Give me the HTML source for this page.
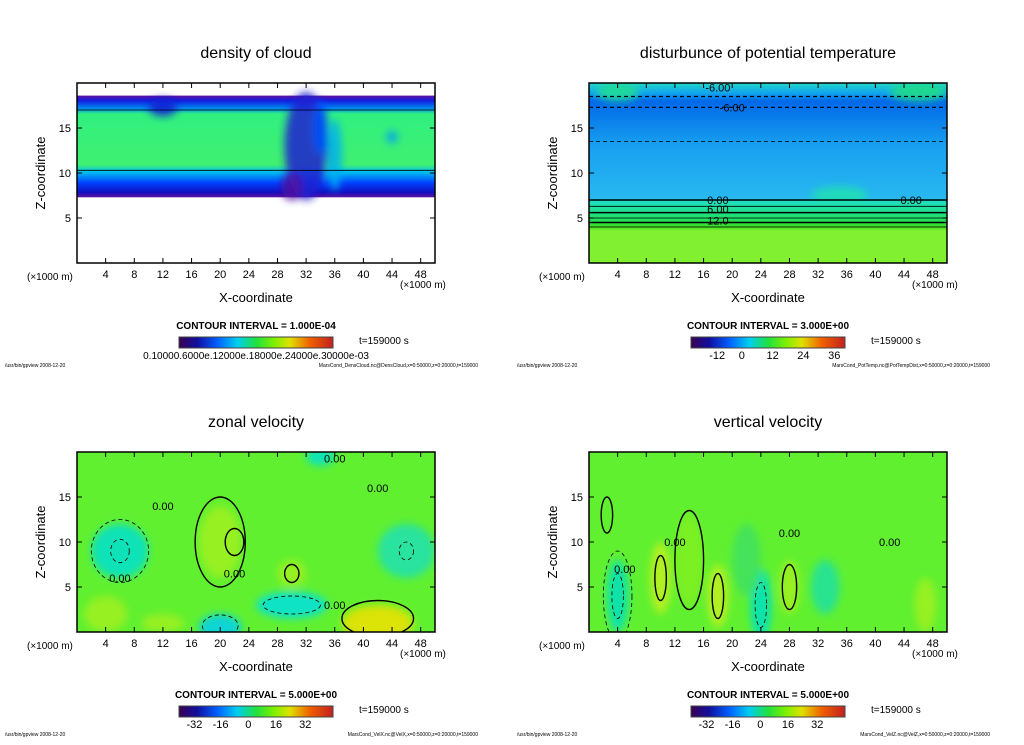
<!DOCTYPE html>
<html><head><meta charset="utf-8">
<style>
body{margin:0;background:#fff;width:1024px;height:740px;overflow:hidden;font-family:"Liberation Sans",sans-serif;}
svg text{font-family:"Liberation Sans",sans-serif;fill:#000;}
</style></head>
<body>
<svg id="fig" width="1024" height="740" xmlns="http://www.w3.org/2000/svg">
<defs>
<filter id="blur4"><feGaussianBlur stdDeviation="4"/></filter>
<linearGradient id="cbar" x1="0" x2="1" y1="0" y2="0">
<stop offset="0" stop-color="#3a0050"/><stop offset="0.12" stop-color="#1010a0"/><stop offset="0.25" stop-color="#0060ff"/>
<stop offset="0.38" stop-color="#00d0f0"/><stop offset="0.5" stop-color="#20e040"/><stop offset="0.62" stop-color="#80f000"/>
<stop offset="0.72" stop-color="#e0e000"/><stop offset="0.85" stop-color="#f06000"/><stop offset="1" stop-color="#c02020"/>
</linearGradient>
<linearGradient id="g1" x1="0" x2="0" y1="0" y2="1">
<stop offset="0" stop-color="#6010a0"/><stop offset="0.05" stop-color="#1020e0"/><stop offset="0.13" stop-color="#0090f0"/>
<stop offset="0.18" stop-color="#30f080"/><stop offset="0.68" stop-color="#40f070"/><stop offset="0.75" stop-color="#00c0f0"/>
<stop offset="0.86" stop-color="#0040ff"/><stop offset="0.95" stop-color="#1010c0"/><stop offset="1" stop-color="#6010a0"/>
</linearGradient>
<linearGradient id="g2" x1="0" x2="0" y1="0" y2="1">
<stop offset="0" stop-color="#20d8c8"/><stop offset="0.06" stop-color="#10a0f0"/><stop offset="0.1" stop-color="#0068e8"/>
<stop offset="0.35" stop-color="#18a0f0"/><stop offset="0.64" stop-color="#28b8f0"/><stop offset="0.66" stop-color="#20e0c0"/>
<stop offset="0.76" stop-color="#20e060"/><stop offset="0.8" stop-color="#40e020"/><stop offset="0.82" stop-color="#80f030"/>
<stop offset="1" stop-color="#80f030"/>
</linearGradient>
</defs>
</svg>
<script>
const xTicks=[4,8,12,16,20,24,28,32,36,40,44,48];
const zTicks=[5,10,15];
const titles=["density of cloud","disturbunce of potential temperature","zonal velocity","vertical velocity"];
const intervals=["CONTOUR INTERVAL = 1.000E-04","CONTOUR INTERVAL = 3.000E+00","CONTOUR INTERVAL = 5.000E+00","CONTOUR INTERVAL = 5.000E+00"];
const cbarLabels=[["0.10000.6000e.12000e.18000e.24000e.30000e-03"],["-12","0","12","24","36"],["-32","-16","0","16","32"],["-32","-16","0","16","32"]];
const cbarPos=[[0.5],[0.17,0.33,0.53,0.73,0.93],[0.1,0.27,0.45,0.63,0.82],[0.1,0.27,0.45,0.63,0.82]];
const footers=["MarsCond_DensCloud.nc@DensCloud,x=0:50000,z=0:20000,t=159000","MarsCond_PotTemp.nc@PotTempDist,x=0:50000,z=0:20000,t=159000","MarsCond_VelX.nc@VelX,x=0:50000,z=0:20000,t=159000","MarsCond_VelZ.nc@VelZ,x=0:50000,z=0:20000,t=159000"];
// blobs: [x, z, rx, rz, color]
const blobs1=[[32,13,3,6,"#2020d0"],[30,8.5,1.5,1.5,"#5010a0"],[34,15,1,3,"#0050ff"],[12,17.3,2,1,"#1020d0"],[44,14,0.8,0.7,"#00a0f0"],[36,12,1,4,"#00b0f0"]];
const blobs2=[[35,7.5,4,1,"#20e0b0"],[46,19,4,1,"#20e080"],[4,19,3,1,"#20e090"]];
const blobs3=[[6,9,4,3,"#00e0d0"],[46,9,4,3,"#20e0b0"],[20,10,3,4,"#a0f020"],[30,3,5,1.5,"#00e0e0"],[20,0.5,3,1.5,"#00d0f0"],[42,1,5,2,"#f0e000"],[30,6.5,2,1.5,"#a0f020"],[4,2,3,2,"#a0f020"],[12,1,3,1,"#a0f020"],[34,19.5,2,1,"#00e0d0"]];
const blobs4=[[4,4,1.5,4,"#00e0c0"],[10,6,1.5,4,"#c0f020"],[18,4,1.5,3.5,"#c0f020"],[24,3,1.5,4,"#00e0c0"],[14,8,2,5,"#80f020"],[28,5,1.5,3,"#a0f020"],[33,5,2,3,"#20e0a0"],[22,8,2,4,"#40e060"],[47,3,1.5,3,"#a0f020"]];
// horizontal contour levels: [z, dashed, width]
const lines1=[[10.3,0,0.8],[17,0,0.8]];
const lines2=[[7,0,1.5],[6.3,0,0.8],[5.6,0,1.5],[5.0,0,0.8],[4.5,0,1.5],[4.0,0,0.8],[17.3,1,1.2],[13.5,1,0.8],[18.5,1,1.2]];
const lines3=[];
const lines4=[];
const labels2=[[18,7,"0.00"],[45,7,"0.00"],[18,6,"6.00"],[18,4.7,"12.0"],[20,17.3,"-6.00"],[18,19.5,"-6.00"]];
// contour ellipses: [x, z, rx, rz, dashed]
const rings3=[[6,9,1.3,1.3,1],[46,9,1,1,1],[22,10,1.3,1.5,0],[30,6.5,1,1,0],[30,3,4,1,1],[20,10,3.5,5,0],[42,1.5,5,2,0],[20,0.7,2.5,1.2,1],[6,9,4,3.5,1]];
const rings4=[[4,4,0.8,2.5,1],[10,6,0.8,2.5,0],[18,4,0.8,2.5,0],[24,3,0.8,2.5,1],[14,8,2,5.5,0],[2.5,13,0.8,2,0],[4,4,2,5,1],[28,5,1,2.5,0]];
const labels3=[[6,6,"0.00"],[22,6.5,"0.00"],[36,3,"0.00"],[12,14,"0.00"],[42,16,"0.00"],[36,19.3,"0.00"]];
const labels4=[[5,7,"0.00"],[12,10,"0.00"],[42,10,"0.00"],[28,11,"0.00"]];
const panels=[{x:77,y:83,bg:"url(#g1)",blobs:blobs1,zTop:18.6,zBot:7.3,lines:lines1,rings:[],labels:[]},{x:589,y:83,bg:"url(#g2)",blobs:blobs2,lines:lines2,rings:[],labels:labels2},{x:77,y:452,bg:"#60f030",blobs:blobs3,lines:lines3,rings:rings3,labels:labels3},{x:589,y:452,bg:"#60f030",blobs:blobs4,lines:lines4,rings:rings4,labels:labels4}];
const W=358,H=180;
const svg=document.getElementById('fig');
const NS="http://www.w3.org/2000/svg";
function mk(tag,attrs,parent){const e=document.createElementNS(NS,tag);for(const k in attrs)e.setAttribute(k,attrs[k]);(parent||svg).appendChild(e);return e;}
panels.forEach((p,i)=>{
  const sx=v=>p.x+v/50*W, sz=v=>p.y+H-v/20*H;
  const g=mk('g',{});
  
  
  const cx=p.x+W/2;
  const t=mk('text',{x:cx,y:p.y-25,'font-size':16,'text-anchor':'middle'},g);t.textContent=titles[i];
  
  
  const clipId='clip'+i;
  const cp=mk('clipPath',{id:clipId},g);mk('rect',{x:p.x,y:p.y,width:W,height:H},cp);
  const plot=mk('g',{'clip-path':'url(#'+clipId+')'},g);
  
  
  if(p.zTop!==undefined){mk('rect',{x:p.x,y:sz(p.zTop),width:W,height:sz(p.zBot)-sz(p.zTop),fill:p.bg},plot);}
  else mk('rect',{x:p.x,y:p.y,width:W,height:H,fill:p.bg},plot);
  const bg=mk('g',{filter:'url(#blur4)'},plot);
  p.blobs.forEach(b=>{const e=mk('ellipse',{cx:sx(b[0]),cy:sz(b[1]),rx:b[2]/50*W,ry:b[3]/20*H,fill:b[4],opacity:0.85},bg);
    
    });
  p.lines.forEach(l=>{const e=mk('line',{x1:p.x,x2:p.x+W,y1:sz(l[0]),y2:sz(l[0]),stroke:'#000','stroke-width':l[2],'stroke-dasharray':l[1]?'4,3':'none'},plot);
    
    });
  p.rings.forEach(r=>{const e=mk('ellipse',{cx:sx(r[0]),cy:sz(r[1]),rx:r[2]/50*W,ry:r[3]/20*H,fill:'none',stroke:'#000','stroke-width':r[4]?0.8:1.4,'stroke-dasharray':r[4]?'4,3':'none'},plot);
    
    });
  p.labels.forEach(l=>{const X=sx(l[0]),Y=sz(l[1]);
    const e=mk('text',{x:X,y:Y+4,'font-size':11,'text-anchor':'middle'},plot);e.textContent=l[2];
    
    });
  mk('rect',{x:p.x,y:p.y,width:W,height:H,fill:'none',stroke:'#000','stroke-width':1.5},g);
  xTicks.forEach(v=>{const X=sx(v);
    mk('line',{x1:X,x2:X,y1:p.y+H,y2:p.y+H-5,stroke:'#000'},g);mk('line',{x1:X,x2:X,y1:p.y,y2:p.y+5,stroke:'#000'},g);
    const tt=mk('text',{x:X,y:p.y+H+15,'font-size':11,'text-anchor':'middle'},g);tt.textContent=v;
    
    });
  zTicks.forEach(v=>{const Y=sz(v);
    mk('line',{x1:p.x,x2:p.x+5,y1:Y,y2:Y,stroke:'#000'},g);mk('line',{x1:p.x+W,x2:p.x+W-5,y1:Y,y2:Y,stroke:'#000'},g);
    const tt=mk('text',{x:p.x-6,y:Y+4,'font-size':11,'text-anchor':'end'},g);tt.textContent=v;
    
    });
  let u=mk('text',{x:p.x-50,y:p.y+H+17,'font-size':10},g);u.textContent='(×1000 m)';
  u=mk('text',{x:p.x+W-35,y:p.y+H+25,'font-size':10},g);u.textContent='(×1000 m)';
  const xl=mk('text',{x:cx,y:p.y+H+39,'font-size':13,'text-anchor':'middle'},g);xl.textContent='X-coordinate';
  
  
  const zl=mk('text',{x:0,y:0,'font-size':13,'text-anchor':'middle',transform:'translate('+(p.x-32)+','+(p.y+H/2)+') rotate(-90)'},g);zl.textContent='Z-coordinate';
  
  
  const ci=mk('text',{x:cx,y:p.y+H+66,'font-size':10,'text-anchor':'middle','font-weight':'bold'},g);ci.textContent=intervals[i];
  const cb=mk('rect',{x:p.x+102,y:p.y+H+74,width:154,height:11,fill:'url(#cbar)',stroke:'#444'},g);
  
  
  cbarLabels[i].forEach((l,k)=>{const tt=mk('text',{x:p.x+102+154*cbarPos[i][k],y:p.y+H+96,'font-size':i===0?10:11,'text-anchor':'middle'},g);tt.textContent=l;});
  const ts=mk('text',{x:p.x+282,y:p.y+H+81,'font-size':10,fill:'#666'},g);ts.textContent='t=159000 s';
  let f=mk('text',{x:p.x-72,y:p.y+H+104,'font-size':5},g);f.textContent='/usr/bin/gpview   2008-12-20';
  f=mk('text',{x:p.x+W+43,y:p.y+H+104,'font-size':5,'text-anchor':'end'},g);f.textContent=footers[i];
});
</script>
</body></html>
